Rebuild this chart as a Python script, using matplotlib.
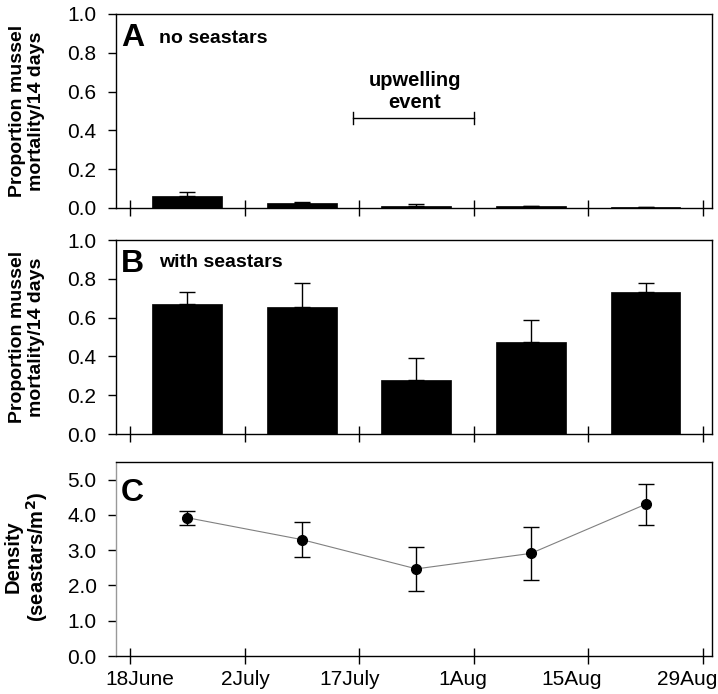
import matplotlib
matplotlib.use("Agg")
import matplotlib.pyplot as plt
import matplotlib.transforms as mtransforms
import numpy as np

plt.rcParams['font.family'] = ['Liberation Sans', 'DejaVu Sans']

dates = ["18June", "2July", "17July", "1Aug", "15Aug", "29Aug"]
no_seastars = [0.06, 0.025, 0.012, 0.008, 0.004]
no_seastars_err = [0.02, 0.007, 0.008, 0.004, 0.0]
with_seastars = [0.67, 0.655, 0.278, 0.474, 0.732]
with_seastars_err = [0.06, 0.122, 0.112, 0.116, 0.045]
density = [3.92, 3.30, 2.47, 2.91, 4.30]
density_err = [0.2, 0.5, 0.63, 0.75, 0.58]
upwelling_span = [1.95, 3.0]

W, H = 718, 694
fig = plt.figure(figsize=(W / 100, H / 100), dpi=100)

def px_axes(left, top, right, bottom):
    return fig.add_axes([left / W, 1 - bottom / H, (right - left) / W, (bottom - top) / H])

axA = px_axes(116, 14, 712, 208)
axB = px_axes(116, 240, 712, 434)
axC = px_axes(116, 462, 712, 656)

xc = np.arange(len(no_seastars)) + 0.5
xt = np.arange(len(dates))
xlim = (-0.122, 5.08)
barw = 0.61

def style(ax, yticks, fmt, ylim):
    ax.set_xlim(*xlim)
    ax.set_ylim(*ylim)
    ax.set_xticks(xt)
    ax.set_yticks(yticks)
    ax.set_yticklabels([fmt.format(v) for v in yticks], fontsize=15)
    ax.tick_params(axis='x', direction='inout', length=12, width=1.0, pad=4)
    ax.tick_params(axis='y', direction='out', length=6, width=1.0, pad=8)
    for s in ax.spines.values():
        s.set_linewidth(1.0)

for ax, vals, errs in [(axA, no_seastars, no_seastars_err), (axB, with_seastars, with_seastars_err)]:
    ax.bar(xc, vals, width=barw, color='black', edgecolor='black', linewidth=0.5, zorder=2)
    ax.errorbar(xc, vals, yerr=[np.zeros(len(errs)), errs], fmt='none', ecolor='black',
                elinewidth=1.0, capsize=6, capthick=1.0, zorder=3)
    style(ax, [0.0, 0.2, 0.4, 0.6, 0.8, 1.0], "{:.1f}", (0, 1.0))
    ax.set_xticklabels([])

axC.plot(xc, density, color='gray', linewidth=0.8, zorder=2)
axC.errorbar(xc, density, yerr=density_err, fmt='o', color='black', markersize=7,
             ecolor='black', elinewidth=1.0, capsize=6, capthick=1.0, zorder=3)
style(axC, [0.0, 1.0, 2.0, 3.0, 4.0, 5.0], "{:.1f}", (0, 5.5))
axC.set_xticklabels(dates, fontsize=15)
axC.spines['left'].set_color('#999999')
# horizontal offsets of date labels as placed in the original (pixels)
label_shift_px = [10, 1, -9, -11, -17, -16]
for lab, dx in zip(axC.get_xticklabels(), label_shift_px):
    lab.set_transform(lab.get_transform() + mtransforms.ScaledTranslation(dx / 100, 0, fig.dpi_scale_trans))

# panel letters
axA.text(0.008, 0.875, "A", transform=axA.transAxes, fontsize=23, fontweight='bold', va='center')
axA.text(0.072, 0.875, "no seastars", transform=axA.transAxes, fontsize=14, fontweight='bold', va='center')
axB.text(0.008, 0.875, "B", transform=axB.transAxes, fontsize=23, fontweight='bold', va='center')
axB.text(0.072, 0.885, "with seastars", transform=axB.transAxes, fontsize=14, fontweight='bold', va='center')
axC.text(0.008, 0.84, "C", transform=axC.transAxes, fontsize=23, fontweight='bold', va='center')

# upwelling event bracket
ymid = 0.465
axA.plot(upwelling_span, [ymid, ymid], color='black', linewidth=1.0)
for xv in upwelling_span:
    axA.plot([xv, xv], [ymid - 0.03, ymid + 0.03], color='black', linewidth=1.0)
axA.text(np.mean(upwelling_span) + 0.01, 0.60, "upwelling\nevent", fontsize=14.5, fontweight='bold',
         ha='center', va='center', linespacing=1.15)

# y labels
fig.text(27 / W, 1 - 111 / H, "Proportion mussel\nmortality/14 days", rotation=90,
         ha='center', va='center', fontsize=14, fontweight='bold', linespacing=1.1)
fig.text(27 / W, 1 - 337 / H, "Proportion mussel\nmortality/14 days", rotation=90,
         ha='center', va='center', fontsize=14, fontweight='bold', linespacing=1.1)
fig.text(27 / W, 1 - 557 / H, "Density\n(seastars/m$^\\mathbf{2}$)", rotation=90,
         ha='center', va='center', fontsize=14.5, fontweight='bold', linespacing=1.1)

fig.savefig("out.png", dpi=100)
